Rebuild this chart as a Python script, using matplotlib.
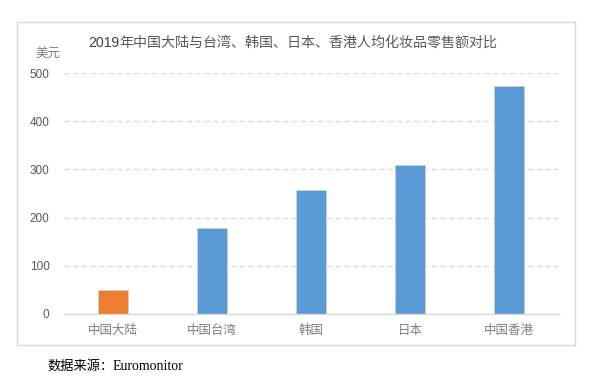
import matplotlib
matplotlib.use("Agg")
import matplotlib.pyplot as plt
from matplotlib.patches import Rectangle

plt.rcParams['font.family'] = ['Noto Sans CJK SC', 'DejaVu Sans']

categories = ['中国大陆', '中国台湾', '韩国', '日本', '中国香港']
values = [50, 178, 257, 309, 474]
colors = ['#ED7D31', '#5B9BD5', '#5B9BD5', '#5B9BD5', '#5B9BD5']
yticks = [0, 100, 200, 300, 400, 500]

fig = plt.figure(figsize=(5.93, 3.79), dpi=100)
fig.patch.set_facecolor('white')

frame = Rectangle((17/593, 1-345/379), (575-17)/593, (345-22)/379,
                  transform=fig.transFigure, fill=False, edgecolor='#D9D9D9', linewidth=1.0)
fig.patches.append(frame)

ax = fig.add_axes([63.5/593, 1-314/379, 495/593, (314-73)/379])
x = range(len(categories))
ax.bar(x, values, width=0.31, color=colors, edgecolor='#D0D0D0', linewidth=0.6, zorder=3)
ax.set_xlim(-0.5, len(categories)-0.5)
ax.set_ylim(0, 500)
ax.set_yticks(yticks)
ax.set_yticklabels([str(t) for t in yticks], color='#595959', fontsize=8.5,
                   family=['Liberation Sans', 'DejaVu Sans'])
ax.set_xticks(list(x))
ax.set_xticklabels(categories, color='#7F7F7F', fontsize=9)
ax.tick_params(axis='both', length=0)
ax.tick_params(axis='y', pad=10)
ax.tick_params(axis='x', pad=7)
ax.yaxis.grid(True, color='#D9D9D9', linestyle=(0, (4, 3)), linewidth=0.9, zorder=0)
for side in ['top', 'right', 'left']:
    ax.spines[side].set_visible(False)
ax.spines['bottom'].set_color('#D9D9D9')
ax.spines['bottom'].set_linewidth(1.0)
ax.spines['bottom'].set_zorder(4)

t1 = fig.text(88/593, 1-43/379, '2019', fontsize=10.1, color='#404040', ha='left', va='center',
              family=['Liberation Sans', 'DejaVu Sans'])
fig.canvas.draw()
bb = t1.get_window_extent(renderer=fig.canvas.get_renderer())
fig.text(bb.x1/593 + 0.5/593, 1-43/379, '年中国大陆与台湾、韩国、日本、香港人均化妆品零售额对比', fontsize=10.1,
         color='#595959', ha='left', va='center')
fig.text(35/593, 1-53/379, '美元', fontsize=9, color='#7F7F7F', ha='left', va='center')
fig.text(47/593, 1-366/379, '数据来源：', fontsize=9.5, color='black', ha='left', va='center')
fig.text(113/593, 1-366/379, 'Euromonitor', fontsize=10, color='black', ha='left', va='center',
         family=['Liberation Serif', 'DejaVu Serif'])

fig.savefig('out.png', dpi=100)
